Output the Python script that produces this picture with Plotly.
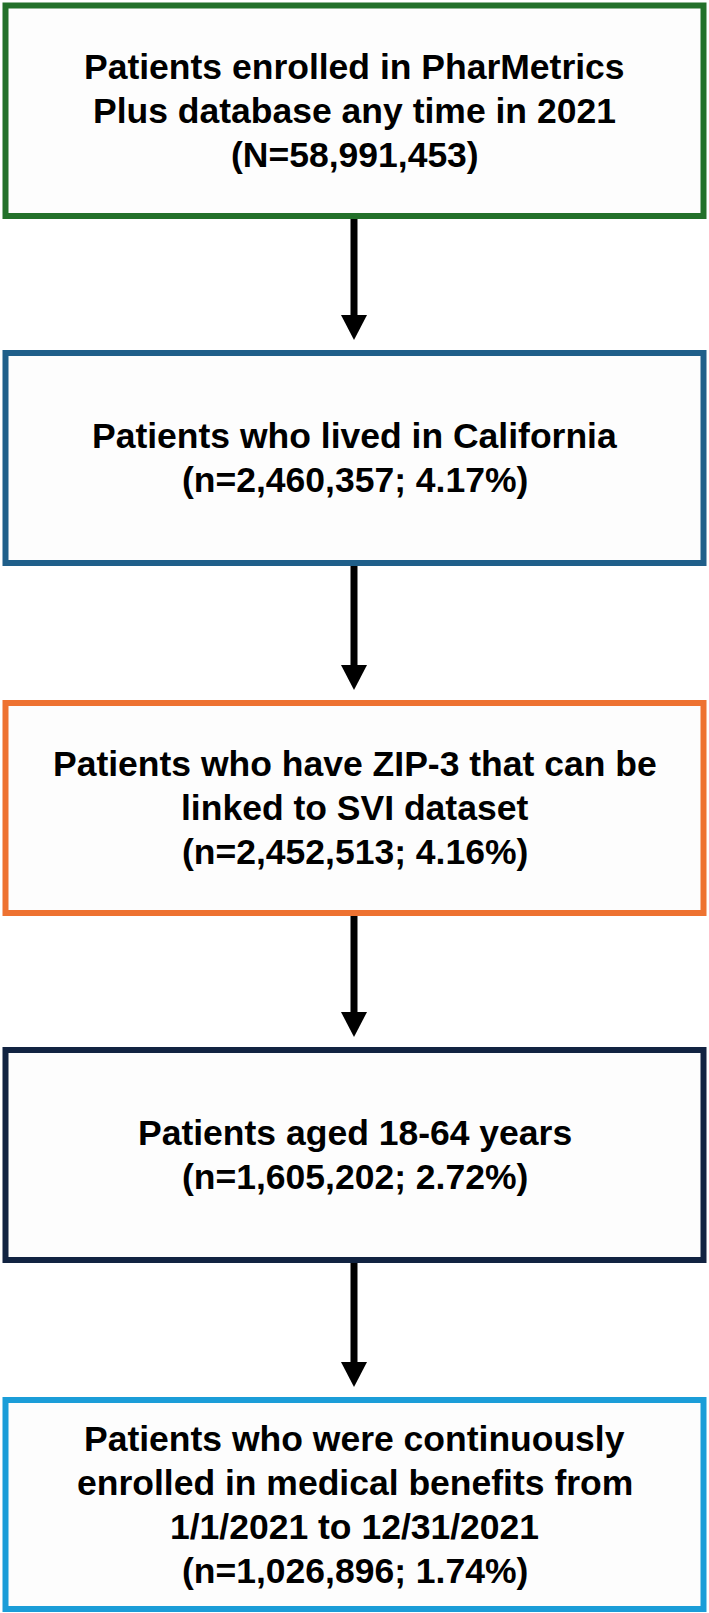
import plotly.graph_objects as go

# flowchart content
step_labels = [
    ["Patients enrolled in PharMetrics", "Plus database any time in 2021"],
    ["Patients who lived in California"],
    ["Patients who have ZIP-3 that can be", "linked to SVI dataset"],
    ["Patients aged 18-64 years"],
    ["Patients who were continuously", "enrolled in medical benefits from", "1/1/2021 to 12/31/2021"],
]
step_counts = [58991453, 2460357, 2452513, 1605202, 1026896]
step_pcts = [None, 4.17, 4.16, 2.72, 1.74]

# layout / style (pixels, y grows downward)
W, H = 709, 1613
box_left, box_right = 5.5, 703.5
box_tops = [5.5, 353, 703, 1050, 1400]
box_bottoms = [216, 563, 913, 1260, 1609]
border_colors = ["#23702a", "#1f5f8a", "#ee7231", "#112341", "#1b9dd8"]
border_w = 6
arrow_x = 354
font_size = 35.5
line_gap = 44

fig = go.Figure()

for i, label in enumerate(step_labels):
    fig.add_shape(
        type="rect", xref="x", yref="y",
        x0=box_left, x1=box_right, y0=box_tops[i], y1=box_bottoms[i],
        line=dict(color=border_colors[i], width=border_w),
        fillcolor="#fdfdfd", layer="below",
    )
    if step_pcts[i] is None:
        count_txt = f"(N={step_counts[i]:,})"
    else:
        count_txt = f"(n={step_counts[i]:,}; {step_pcts[i]:.2f}%)"
    lines = label + [count_txt]
    mid = (box_tops[i] + box_bottoms[i]) / 2
    first = mid - line_gap * (len(lines) - 1) / 2
    for k, txt in enumerate(lines):
        fig.add_annotation(
            x=(box_left + box_right) / 2, y=first + k * line_gap,
            xref="x", yref="y", xanchor="center", yanchor="middle",
            text=f"<b>{txt}</b>", showarrow=False,
            font=dict(family="Liberation Sans, Arial, sans-serif", size=font_size, color="black"),
        )

# arrows between boxes
for i in range(len(step_labels) - 1):
    y_start = box_bottoms[i] + border_w / 2
    y_tip = box_tops[i + 1] - border_w / 2 - 10
    head_len = 25
    fig.add_shape(
        type="line", xref="x", yref="y",
        x0=arrow_x, x1=arrow_x, y0=y_start, y1=y_tip - head_len + 3,
        line=dict(color="black", width=7),
    )
    fig.add_shape(
        type="path", xref="x", yref="y",
        path=f"M {arrow_x - 13},{y_tip - head_len} L {arrow_x + 13},{y_tip - head_len} L {arrow_x},{y_tip} Z",
        fillcolor="black", line=dict(color="black", width=0),
    )

fig.update_layout(
    width=W, height=H,
    margin=dict(l=0, r=0, t=0, b=0),
    paper_bgcolor="white", plot_bgcolor="white",
    showlegend=False,
    xaxis=dict(range=[0, W], visible=False, fixedrange=True),
    yaxis=dict(range=[H, 0], visible=False, fixedrange=True),
)

fig.write_html(
    "out.html",
    config={"displayModeBar": False},
    post_script="document.body.style.margin='0px';document.body.style.overflow='hidden';",
)
